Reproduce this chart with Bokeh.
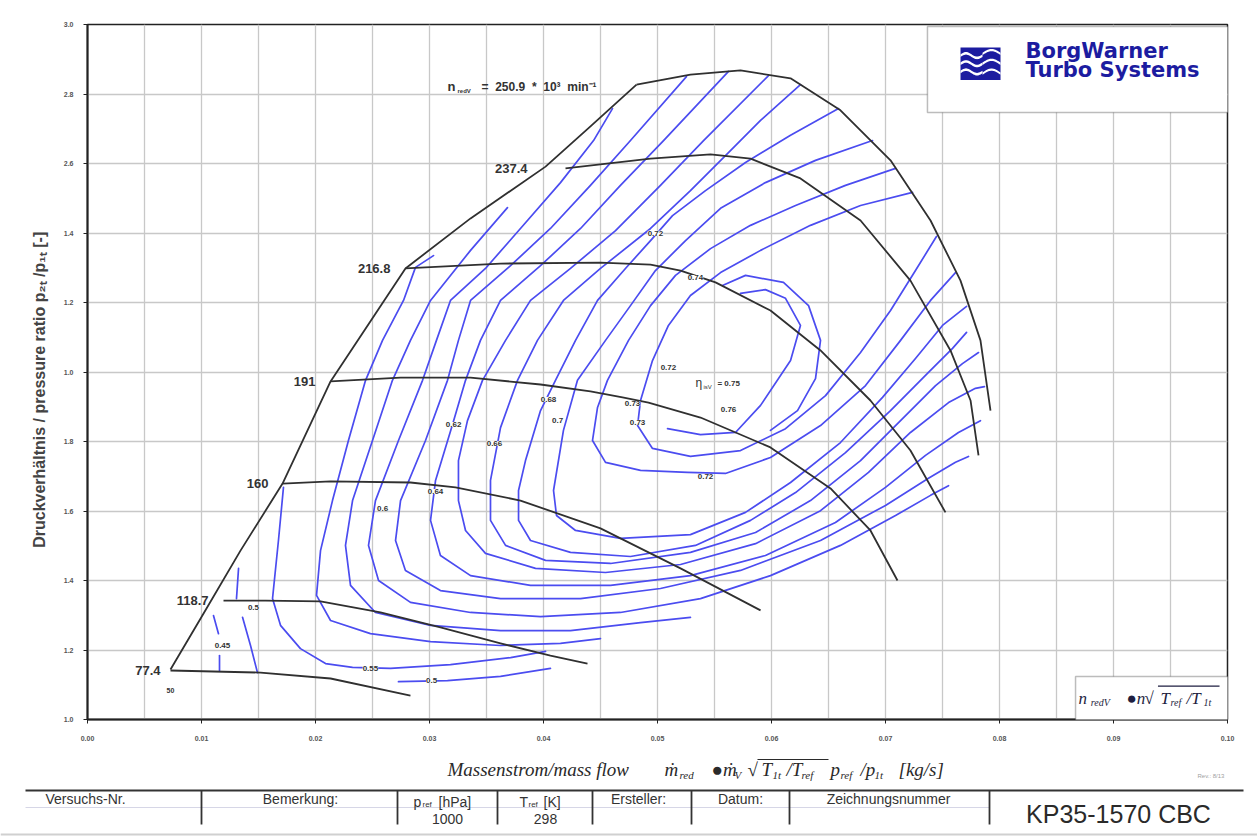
import numpy as np
from bokeh.plotting import figure
from bokeh.layouts import column
from bokeh.models import (Range1d, FixedTicker, NumeralTickFormatter, Label, LabelSet,
                          ColumnDataSource, BoxAnnotation, PolyAnnotation)
from bokeh.core.properties import value
from bokeh.embed import file_html
from bokeh.resources import INLINE

NBSP = "\u00a0"

# ---------------- axes ----------------
flow_ticks = [0.00, 0.01, 0.02, 0.03, 0.04, 0.05, 0.06, 0.07, 0.08, 0.09, 0.10]
flow_grid = [0.000, 0.005, 0.010, 0.015, 0.020, 0.025, 0.030, 0.035, 0.040, 0.045, 0.050,
             0.055, 0.060, 0.065, 0.070, 0.075, 0.080, 0.085, 0.090, 0.095, 0.100]
pr_ticks = [1.0, 1.2, 1.4, 1.6, 1.8, 2.0, 2.2, 2.4, 2.6, 2.8, 3.0]
pr_tick_text = {2.0: "1.0", 2.2: "1.2", 2.4: "1.4"}

# ---------------- speed lines (n_redV, 10^3 1/min) ----------------
speeds = [77.4, 118.7, 160, 191, 216.8, 237.4, 250.9]

surge_flow = [0.00728, 0.01018, 0.01342, 0.01711, 0.02132, 0.02789, 0.03360, 0.04018, 0.04412, 0.04816]
surge_pr = [1.144, 1.305, 1.486, 1.679, 1.973, 2.298, 2.442, 2.591, 2.707, 2.827]

n774_flow = [0.00728, 0.01518, 0.02132, 0.02833]
n774_pr = [1.141, 1.135, 1.118, 1.069]
n1187_flow = [0.01193, 0.01561, 0.02044, 0.02570, 0.03096, 0.03623, 0.04061, 0.04386]
n1187_pr = [1.342, 1.342, 1.340, 1.308, 1.265, 1.219, 1.184, 1.161]
n160_flow = [0.01711, 0.02132, 0.02833, 0.03228, 0.03798, 0.04500, 0.05202, 0.05904]
n160_pr = [1.679, 1.685, 1.682, 1.668, 1.630, 1.550, 1.435, 1.314]
n191_flow = [0.02132, 0.02746, 0.03360, 0.03974, 0.04412, 0.04693, 0.04921, 0.05377,
             0.05991, 0.06518, 0.06868, 0.07105]
n191_pr = [1.973, 1.984, 1.984, 1.964, 1.944, 1.927, 1.912, 1.869, 1.783, 1.665, 1.544, 1.400]
n2168_flow = [0.02789, 0.03623, 0.04500, 0.04939, 0.05202, 0.05509, 0.05991, 0.06430,
              0.06868, 0.07219, 0.07526]
n2168_pr = [2.298, 2.312, 2.315, 2.309, 2.292, 2.258, 2.177, 2.062, 1.918, 1.774, 1.596]
n2374_flow = [0.04193, 0.04939, 0.05465, 0.05816, 0.06254, 0.06781, 0.07219, 0.07570,
              0.07746, 0.07816]
n2374_pr = [2.586, 2.614, 2.626, 2.614, 2.557, 2.436, 2.263, 2.062, 1.918, 1.760]
n2509_flow = [0.04816, 0.05289, 0.05728, 0.06167, 0.06605, 0.07044, 0.07395, 0.07658,
              0.07833, 0.07921]
n2509_pr = [2.827, 2.856, 2.868, 2.845, 2.753, 2.609, 2.436, 2.263, 2.091, 1.889]

# label offsets of the speed numbers (screen px, left of line start)
speed_label_dx = [-10, -15, -14, -15, -15, -38]

# ---------------- efficiency contours ----------------
eta_p1_flow = [0.01325, 0.01307]
eta_p1_pr = [1.435, 1.348]
eta_p2_flow = [0.01105, 0.01149]
eta_p2_pr = [1.299, 1.247]
eta_p3_flow = [0.01158, 0.01158]
eta_p3_pr = [1.184, 1.141]
eta_p4_flow = [0.01360, 0.01430, 0.01491]
eta_p4_pr = [1.294, 1.213, 1.135]
eta_p5_flow = [0.02728, 0.03158, 0.03623, 0.04061]
eta_p5_pr = [1.109, 1.112, 1.124, 1.147]
eta_p6_flow = [0.01719, 0.01675, 0.01623, 0.01693, 0.01868, 0.02088, 0.02325, 0.02658,
               0.03184, 0.03711, 0.04018]
eta_p6_pr = [1.668, 1.515, 1.348, 1.271, 1.204, 1.161, 1.150, 1.147, 1.158, 1.178, 1.196]

eta_a_flow = [0.03035, 0.02877, 0.02772, 0.02588, 0.02439, 0.02289, 0.02149, 0.02044,
              0.02009, 0.02132, 0.02482, 0.03009, 0.03623, 0.04149, 0.04500]
eta_a_pr = [2.335, 2.301, 2.206, 2.091, 1.976, 1.803, 1.630, 1.486, 1.357, 1.285, 1.247,
            1.224, 1.213, 1.219, 1.233]
eta_b_flow = [0.03684, 0.03360, 0.03009, 0.02833, 0.02675, 0.02500, 0.02325, 0.02263,
              0.02307, 0.02526, 0.03009, 0.03623, 0.04237, 0.04851, 0.05289]
eta_b_pr = [2.473, 2.350, 2.206, 2.091, 1.976, 1.803, 1.630, 1.501, 1.386, 1.308, 1.271,
            1.256, 1.256, 1.279, 1.294]
eta_c_flow = [0.04605, 0.04439, 0.04149, 0.03798, 0.03491, 0.03184, 0.03061, 0.02939,
              0.02728, 0.02526, 0.02465, 0.02553, 0.02833, 0.03360, 0.03974, 0.04675,
              0.05377, 0.05991, 0.06605, 0.07088, 0.07395, 0.07553]
eta_c_pr = [2.758, 2.666, 2.545, 2.413, 2.298, 2.206, 2.091, 1.976, 1.803, 1.630, 1.501,
            1.400, 1.337, 1.308, 1.296, 1.308, 1.348, 1.414, 1.501, 1.587, 1.645, 1.673]
eta_d_flow = [0.05254, 0.04763, 0.04412, 0.04061, 0.03711, 0.03360, 0.03254, 0.03158,
              0.02965, 0.02746, 0.02702, 0.02789, 0.03096, 0.03623, 0.04325, 0.05026,
              0.05728, 0.06430, 0.07000, 0.07377, 0.07614, 0.07728]
eta_d_pr = [2.850, 2.666, 2.537, 2.413, 2.306, 2.206, 2.091, 1.976, 1.803, 1.630, 1.515,
            1.429, 1.371, 1.348, 1.348, 1.377, 1.429, 1.515, 1.616, 1.694, 1.740, 1.757]
eta_e_flow = [0.05623, 0.05053, 0.04675, 0.04325, 0.03974, 0.03623, 0.03447, 0.03316,
              0.03202, 0.03053, 0.03009, 0.03096, 0.03360, 0.03886, 0.04588, 0.05289,
              0.05947, 0.06561, 0.07000, 0.07351, 0.07640, 0.07833]
eta_e_pr = [2.865, 2.666, 2.537, 2.413, 2.306, 2.206, 2.091, 1.976, 1.849, 1.688, 1.573,
            1.472, 1.414, 1.386, 1.386, 1.414, 1.472, 1.567, 1.668, 1.760, 1.826, 1.860]
eta_f_flow = [0.05974, 0.05404, 0.05026, 0.04632, 0.04237, 0.03886, 0.03667, 0.03465,
              0.03333, 0.03254, 0.03254, 0.03316, 0.03491, 0.03930, 0.04544, 0.05202,
              0.05860, 0.06430, 0.06851, 0.07219, 0.07553, 0.07789, 0.07868]
eta_f_pr = [2.853, 2.666, 2.537, 2.407, 2.298, 2.206, 2.091, 1.976, 1.860, 1.745, 1.630,
            1.544, 1.478, 1.435, 1.423, 1.446, 1.506, 1.601, 1.711, 1.826, 1.912, 1.953, 1.958]
eta_g_flow = [0.06254, 0.05904, 0.05640, 0.05289, 0.04939, 0.04500, 0.04175, 0.03947,
              0.03772, 0.03623, 0.03535, 0.03535, 0.03667, 0.04018, 0.04588, 0.05289,
              0.05860, 0.06342, 0.06781, 0.07132, 0.07439, 0.07675, 0.07816]
eta_g_pr = [2.827, 2.724, 2.637, 2.522, 2.413, 2.298, 2.206, 2.091, 1.976, 1.840, 1.688,
            1.573, 1.501, 1.458, 1.449, 1.481, 1.538, 1.630, 1.745, 1.860, 1.961, 2.024, 2.056]
eta_h_flow = [0.06588, 0.06167, 0.05772, 0.05421, 0.05132, 0.04939, 0.04719, 0.04474,
              0.04281, 0.04105, 0.03974, 0.03842, 0.03781, 0.03781, 0.03886, 0.04237,
              0.04763, 0.05333, 0.05816, 0.06211, 0.06649, 0.07044, 0.07377, 0.07588, 0.07711]
eta_h_pr = [2.758, 2.681, 2.603, 2.522, 2.450, 2.378, 2.298, 2.206, 2.091, 1.976, 1.889,
            1.745, 1.659, 1.573, 1.515, 1.481, 1.469, 1.501, 1.573, 1.653, 1.768, 1.889,
            1.999, 2.068, 2.114]
eta_i_flow = [0.06886, 0.06386, 0.05947, 0.05553, 0.05246, 0.04982, 0.04763, 0.04544,
              0.04298, 0.04175, 0.04088, 0.04114, 0.04281, 0.04675, 0.05289, 0.05772,
              0.06167, 0.06605, 0.06974, 0.07263, 0.07500, 0.07711]
eta_i_pr = [2.666, 2.609, 2.545, 2.471, 2.378, 2.292, 2.191, 2.091, 1.976, 1.832, 1.659,
            1.587, 1.544, 1.521, 1.532, 1.596, 1.682, 1.797, 1.927, 2.039, 2.134, 2.189]
eta_j_flow = [0.07088, 0.06649, 0.06211, 0.05816, 0.05465, 0.05158, 0.04939, 0.04746,
              0.04561, 0.04474, 0.04430, 0.04544, 0.04851, 0.05263, 0.05596, 0.05991,
              0.06430, 0.06825, 0.07132, 0.07395, 0.07614]
eta_j_pr = [2.586, 2.537, 2.479, 2.422, 2.355, 2.278, 2.191, 2.091, 1.976, 1.898, 1.803,
            1.740, 1.717, 1.711, 1.708, 1.754, 1.846, 1.961, 2.091, 2.206, 2.286]
eta_k_flow = [0.07237, 0.06781, 0.06342, 0.05904, 0.05553, 0.05289, 0.05096, 0.04956,
              0.04851, 0.04825, 0.04956, 0.05289, 0.05728, 0.06123, 0.06474, 0.06781,
              0.07044, 0.07263, 0.07447]
eta_k_pr = [2.517, 2.479, 2.422, 2.350, 2.286, 2.220, 2.134, 2.033, 1.918, 1.846, 1.780,
            1.757, 1.774, 1.837, 1.932, 2.056, 2.177, 2.292, 2.390]
eta_l_flow = [0.05570, 0.05772, 0.06105, 0.06325, 0.06430, 0.06386, 0.06228, 0.05991]
eta_l_pr = [2.249, 2.278, 2.258, 2.191, 2.091, 1.981, 1.889, 1.832]
eta_m_flow = [0.05088, 0.05377, 0.05684, 0.05904, 0.06167, 0.06254, 0.06123, 0.05947, 0.05728]
eta_m_pr = [1.837, 1.820, 1.826, 1.904, 2.033, 2.134, 2.212, 2.237, 2.226]

# efficiency labels
eta_label_value = [0.45, 0.5, 0.55, 0.5, 0.6, 0.62, 0.64, 0.66, 0.68, 0.7, 0.72, 0.74,
                   0.72, 0.73, 0.73, 0.76, 0.72]
eta_label_flow = [0.01184, 0.01456, 0.02482, 0.03018, 0.02588, 0.03211, 0.03053, 0.03570,
                  0.04044, 0.04123, 0.04982, 0.05333, 0.05096, 0.04781, 0.04825, 0.05623, 0.05421]
eta_label_pr = [1.213, 1.322, 1.147, 1.112, 1.607, 1.849, 1.656, 1.794, 1.921, 1.860, 2.399,
                2.272, 2.013, 1.909, 1.855, 1.892, 1.699]
eta_peak = 0.75

# ---------------- main figure ----------------
p = figure(width=1257, height=750, x_range=Range1d(0.0, 0.1), y_range=Range1d(1.0, 3.0),
           output_backend="svg", toolbar_location=None,
           min_border_left=87, min_border_right=30, min_border_top=24, min_border_bottom=31)
p.frame_align = False
p.background_fill_color = "white"
p.border_fill_color = "white"
p.outline_line_color = "#222222"
p.outline_line_width = 1.5

p.xaxis.ticker = FixedTicker(ticks=flow_ticks)
p.xaxis.formatter = NumeralTickFormatter(format="0.00")
p.yaxis.ticker = FixedTicker(ticks=pr_ticks)
p.yaxis.formatter = NumeralTickFormatter(format="0.0")
p.yaxis.major_label_overrides = pr_tick_text
p.xgrid.ticker = FixedTicker(ticks=flow_grid)
p.ygrid.ticker = FixedTicker(ticks=pr_ticks)
p.grid.grid_line_color = "#c8c8c8"
p.grid.grid_line_width = 1.3

for ax in (p.xaxis, p.yaxis):
    ax.axis_line_width = 2
    ax.axis_line_color = "#222222"
    ax.major_tick_line_color = "#222222"
    ax.major_tick_out = 4
    ax.major_tick_in = 0
    ax.minor_tick_line_color = None
    ax.major_label_text_font = "Liberation Sans"
    ax.major_label_text_font_size = "7px"
    ax.major_label_text_font_style = "bold"
    ax.major_label_text_color = "#555555"
p.xaxis.major_label_standoff = 12
p.yaxis.major_label_standoff = 10

p.yaxis.axis_label = "Druckverhältnis / pressure ratio   p₂ₜ /p₁ₜ [-]" + NBSP * 6
p.yaxis.axis_label_text_font = "Liberation Sans"
p.yaxis.axis_label_text_font_size = "16px"
p.yaxis.axis_label_text_font_style = "bold"
p.yaxis.axis_label_text_color = "#444444"
p.yaxis.axis_label_standoff = 13

BLUE = "#4b4cf0"
DARK = "#303030"

eta_lines = [
    (eta_p1_flow, eta_p1_pr), (eta_p2_flow, eta_p2_pr), (eta_p3_flow, eta_p3_pr),
    (eta_p4_flow, eta_p4_pr), (eta_p5_flow, eta_p5_pr), (eta_p6_flow, eta_p6_pr),
    (eta_a_flow, eta_a_pr), (eta_b_flow, eta_b_pr), (eta_c_flow, eta_c_pr),
    (eta_d_flow, eta_d_pr), (eta_e_flow, eta_e_pr), (eta_f_flow, eta_f_pr),
    (eta_g_flow, eta_g_pr), (eta_h_flow, eta_h_pr), (eta_i_flow, eta_i_pr),
    (eta_j_flow, eta_j_pr), (eta_k_flow, eta_k_pr), (eta_l_flow, eta_l_pr),
    (eta_m_flow, eta_m_pr),
]
for fx, fy in eta_lines:
    p.line(fx, fy, line_color=BLUE, line_width=1.7, line_join="round", line_cap="round")

speed_lines = [(n774_flow, n774_pr), (n1187_flow, n1187_pr), (n160_flow, n160_pr),
               (n191_flow, n191_pr), (n2168_flow, n2168_pr), (n2374_flow, n2374_pr),
               (n2509_flow, n2509_pr)]
for fx, fy in speed_lines:
    p.line(fx, fy, line_color=DARK, line_width=1.8, line_join="round")
p.line(surge_flow, surge_pr, line_color=DARK, line_width=1.8, line_join="round")

# speed numbers at the left end of each line
sp_src = ColumnDataSource(dict(
    x=[fx[0] for fx, _ in speed_lines[:6]],
    y=[fy[0] for _, fy in speed_lines[:6]],
    dx=speed_label_dx,
    text=[f"{s:g}" for s in speeds[:6]],
))
p.add_layout(LabelSet(x="x", y="y", text="text", x_offset="dx", source=sp_src,
                      text_align="right", text_baseline="middle",
                      text_font=value("Liberation Sans"), text_font_size="13px",
                      text_font_style="bold", text_color="#333333"))

# top speed line title
top_x, top_y = n2509_flow[0], n2509_pr[0]
p.add_layout(Label(x=top_x, y=top_y, x_offset=-189, y_offset=-2, text="n",
                   text_font="Liberation Sans", text_font_size="13px", text_font_style="bold",
                   text_color="#333333", text_baseline="middle"))
p.add_layout(Label(x=top_x, y=top_y, x_offset=-179, y_offset=-6, text="redV",
                   text_font="Liberation Sans", text_font_size="6px", text_font_style="bold",
                   text_color="#333333", text_baseline="middle"))
p.add_layout(Label(x=top_x, y=top_y, x_offset=-155, y_offset=-2,
                   text=f"={NBSP} {speeds[-1]:g}{NBSP} *{NBSP} 10³{NBSP} min⁻¹",
                   text_font="Liberation Sans", text_font_size="12px", text_font_style="bold",
                   text_color="#333333", text_baseline="middle"))

# efficiency values
eta_src = ColumnDataSource(dict(x=eta_label_flow, y=eta_label_pr,
                                text=[f"{v:g}" for v in eta_label_value]))
p.add_layout(LabelSet(x="x", y="y", text="text", source=eta_src,
                      text_align="center", text_baseline="middle",
                      text_font=value("Liberation Sans"), text_font_size="8px",
                      text_font_style="bold", text_color="#333333",
                      background_fill_color="white"))
p.add_layout(Label(x=n774_flow[0], y=n774_pr[0], y_offset=-20, text="50",
                   text_font="Liberation Sans", text_font_size="7px", text_font_style="bold",
                   text_color="#333333", text_align="center", text_baseline="middle"))

# peak efficiency note
p.add_layout(Label(x=0.05333, y=1.967, text="η", text_font="Liberation Sans",
                   text_font_size="12px", text_color="#333333", text_baseline="middle",
                   background_fill_color="white"))
p.add_layout(Label(x=0.05333, y=1.967, x_offset=8, y_offset=-4, text="isV",
                   text_font="Liberation Sans", text_font_size="6px", text_color="#333333",
                   text_baseline="middle"))
p.add_layout(Label(x=0.05333, y=1.967, x_offset=22, text=f"= {eta_peak:g}",
                   text_font="Liberation Sans", text_font_size="8px", text_font_style="bold",
                   text_color="#333333", text_baseline="middle"))

# company logo block
p.add_layout(BoxAnnotation(left=0.07368, right=0.1004, bottom=2.747, top=2.994,
                           fill_color="white", fill_alpha=1.0, line_color="#222222",
                           line_width=1.5))
icon_l, icon_r, icon_b, icon_t = 0.07658, 0.08009, 2.840, 2.934
p.add_layout(BoxAnnotation(left=icon_l, right=icon_r, bottom=icon_b, top=icon_t,
                           fill_color="#1c1ca0", fill_alpha=1.0, line_color=None))
wave_u = np.linspace(0.0, 1.0, 25)
for k in range(3):
    base = icon_b + (icon_t - icon_b) * (0.25 + 0.25 * k)
    amp = (icon_t - icon_b) * 0.07
    wx = icon_l + (icon_r - icon_l) * 0.55 * wave_u
    wy = base + amp * np.sin(wave_u * 2 * np.pi)
    band = (icon_t - icon_b) * 0.04
    xs = list(wx) + list(wx[::-1])
    ys = list(wy + band) + list((wy - band)[::-1])
    p.add_layout(PolyAnnotation(xs=xs, ys=ys, fill_color="white", fill_alpha=1.0,
                                line_color=None))
for k in range(3):
    base = icon_b + (icon_t - icon_b) * (0.2 + 0.3 * k)
    wx = icon_l + (icon_r - icon_l) * (0.55 + 0.45 * wave_u)
    wy = base + (icon_t - icon_b) * 0.12 * np.sin(wave_u * np.pi)
    band = (icon_t - icon_b) * 0.035
    xs = list(wx) + list(wx[::-1])
    ys = list(wy + band) + list((wy - band)[::-1])
    p.add_layout(PolyAnnotation(xs=xs, ys=ys, fill_color="white", fill_alpha=1.0,
                                line_color=None))
p.add_layout(Label(x=0.08228, y=2.888, text="BorgWarner", text_font="DejaVu Sans",
                   text_font_size="21px", text_font_style="bold", text_color="#1c1ca0"))
p.add_layout(Label(x=0.08228, y=2.835, text="Turbo Systems", text_font="DejaVu Sans",
                   text_font_size="21px", text_font_style="bold", text_color="#1c1ca0"))

# reduced speed definition box
p.add_layout(BoxAnnotation(left=0.08667, right=0.1004, bottom=0.995, top=1.124,
                           fill_color="white", fill_alpha=1.0, line_color="#222222",
                           line_width=1.5))
FORM = "#1e1e40"
for txt, xo, yo, size in [("n", 0.08693, 1.060, "17px"), ("redV", 0.08800, 1.048, "10px"),
                          ("●n", 0.09114, 1.060, "17px"), ("√", 0.09272, 1.060, "17px"),
                          ("T", 0.09412, 1.060, "17px"), ("ref", 0.09500, 1.048, "10px"),
                          ("/T", 0.09640, 1.060, "17px"), ("1t", 0.09790, 1.048, "10px")]:
    p.add_layout(Label(x=xo, y=yo, text=txt, text_font="Liberation Serif",
                       text_font_size=size, text_font_style="italic", text_color=FORM,
                       text_baseline="middle"))
p.add_layout(BoxAnnotation(left=0.09390, right=0.09930, bottom=1.094, top=1.098,
                           fill_color=FORM, fill_alpha=1.0, line_color=None))

# ---------------- title block below the chart ----------------
p2 = figure(width=1257, height=87, x_range=Range1d(0, 1257), y_range=Range1d(87, 0),
            x_axis_location=None, y_axis_location=None, toolbar_location=None,
            output_backend="svg", min_border=0)
p2.frame_align = False
p2.grid.visible = False
p2.outline_line_color = None
p2.background_fill_color = "white"
p2.border_fill_color = "white"

big = dict(text_font=value("Liberation Serif"), text_font_style="italic",
           text_font_size="19px", text_color="#2a2a2a", text_baseline="middle")
small = dict(text_font=value("Liberation Serif"), text_font_style="italic",
             text_font_size="11px", text_color="#2a2a2a", text_baseline="middle")
p2.text(x=[447, 664, 711, 747, 761, 786, 830, 860, 898], y=[19] * 9,
        text=["Massenstrom/mass flow", "ṁ", "●ṁ", "√", "T", "/T", "p", "/p", "[kg/s]"], **big)
p2.text(x=[679, 734, 772, 801, 840, 874], y=[24] * 6,
        text=["red", "V", "1t", "ref", "ref", "1t"], **small)
p2.segment(x0=[757], y0=[9], x1=[828], y1=[9], line_color="#2a2a2a", line_width=1.2)
p2.text(x=[1197], y=[25], text=["Rev.: 8/13"], text_font=value("Liberation Sans"),
        text_font_size="6px", text_color="#a0a0a0", text_baseline="middle")

p2.segment(x0=[25], y0=[40], x1=[1243], y1=[40], line_color="#333333", line_width=2)
p2.segment(x0=[25], y0=[57], x1=[989], y1=[57], line_color="#d6d6e6", line_width=1)
div_x = [201, 397, 497, 592, 691, 789, 989]
p2.segment(x0=div_x, y0=[40] * 7, x1=div_x, y1=[74] * 7, line_color="#333333", line_width=1.8)

hdr = dict(text_font=value("Liberation Sans"), text_font_size="14px", text_color="#333333",
           text_baseline="middle")
p2.text(x=[45], y=[48], text=["Versuchs-Nr."], text_align="left", **hdr)
p2.text(x=[300, 638, 740, 888], y=[48] * 4,
        text=["Bemerkung:", "Ersteller:", "Datum:", "Zeichnungsnummer"], text_align="center", **hdr)
p2.text(x=[413, 519], y=[51, 51], text=["p", "T"], text_align="left", **hdr)
p2.text(x=[422, 528], y=[54, 54], text=["ref", "ref"], text_align="left",
        text_font=value("Liberation Sans"), text_font_size="8px", text_color="#333333",
        text_baseline="middle")
p2.text(x=[438, 543], y=[51, 51], text=["[hPa]", "[K]"], text_align="left", **hdr)
p2.text(x=[447, 545], y=[68, 68], text=["1000", "298"], text_align="center", **hdr)
p2.text(x=[1118], y=[63], text=["KP35-1570 CBC"], text_align="center",
        text_font=value("Liberation Sans"), text_font_size="25px", text_color="#2a2a2a",
        text_baseline="middle")
p2.segment(x0=[0], y0=[84], x1=[1257], y1=[84], line_color="#d0d0d0", line_width=2)

layout = column(p, p2, spacing=0)
open("out.html", "w").write(file_html(layout, INLINE))
